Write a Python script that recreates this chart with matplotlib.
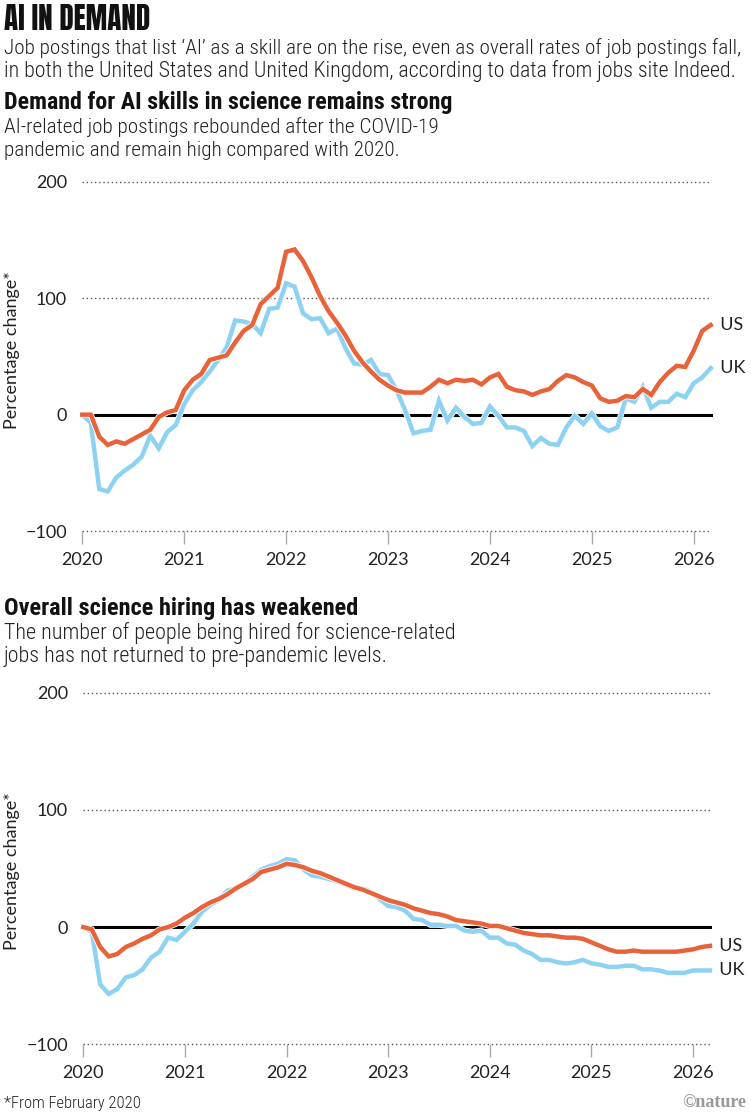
import matplotlib
matplotlib.use("Agg")
import matplotlib.pyplot as plt
import matplotlib.patheffects as pe
from matplotlib import font_manager
import numpy as np

# ---------------- data ----------------
month_index = list(range(75))          # Feb 2020 ... Mar 2026 (monthly)
year_ticks = [2020, 2021, 2022, 2023, 2024, 2025, 2026]
y_ticks = [-100, 0, 100, 200]
y_tick_labels = ["\u2212100", "0", "100", "200"]

us_ai = [0, 0, -19, -26, -23, -25, -21, -17, -13, -2, 2, 4,
         21, 30, 35, 47, 49, 51, 62, 72, 77, 95, 102, 109,
         140, 142, 132, 118, 102, 89, 79, 68, 55, 45, 37, 30,
         25, 21, 19, 19, 19, 24, 30, 27, 30, 29, 30, 26,
         32, 35, 24, 21, 20, 17, 20, 22, 29, 34, 32, 28,
         25, 14, 11, 12, 16, 15, 22, 17, 28, 36, 42, 41,
         55, 72, 77]
uk_ai = [0, -7, -64, -66, -54, -48, -43, -36, -18, -29, -15, -9,
         9, 21, 28, 37, 47, 58, 81, 80, 78, 70, 91, 92,
         113, 110, 87, 82, 83, 70, 74, 57, 44, 43, 47, 35,
         34, 21, 4, -16, -14, -13, 12, -5, 6, -2, -8, -7,
         7, -1, -11, -11, -14, -27, -20, -25, -26, -11, -1, -8,
         1, -10, -14, -11, 14, 11, 24, 6, 11, 11, 18, 15,
         27, 32, 40]
us_all = [0, -2, -17, -25, -23, -17, -14, -10, -7, -2, 0, 3,
          8, 12, 17, 21, 24, 28, 33, 37, 41, 47, 49, 51,
          54, 53, 51, 48, 46, 43, 40, 37, 34, 32, 29, 26,
          23, 21, 19, 16, 14, 12, 11, 9, 6, 5, 4, 3,
          1, 1, -1, -3, -5, -6, -7, -7, -8, -9, -9, -10,
          -13, -16, -19, -21, -21, -20, -21, -21, -21, -21, -21, -20,
          -19, -17, -16]
uk_all = [0, -4, -49, -57, -53, -43, -41, -36, -26, -21, -9, -11,
          -4, 3, 13, 19, 23, 31, 33, 37, 43, 49, 52, 54,
          58, 57, 49, 44, 43, 41, 39, 36, 33, 33, 30, 24,
          18, 17, 14, 7, 6, 2, 2, 1, 1, -3, -4, -3,
          -9, -9, -14, -15, -20, -23, -28, -28, -30, -31, -30, -28,
          -31, -32, -34, -34, -33, -33, -36, -36, -37, -39, -39, -39,
          -37, -37, -37]

x = 2020 + np.array(month_index) / 12.0

# ---------------- style ----------------
W, H = 751, 1115
ORANGE = "#E8633A"
BLUE = "#8ED2F3"
TXT = "#222222"

fonts = [(f.name, f.weight) for f in font_manager.fontManager.ttflist]
names = {n for n, _ in fonts}


def pick(cands):
    for c in cands:
        if c in names:
            return c
    return "DejaVu Sans"


def has_weight(name, w):
    return any(n == name and wt == w for n, wt in fonts)


TITLEF = pick(["Anton", "Barlow Condensed", "Roboto Condensed", "Oswald",
               "Archivo Narrow", "Liberation Sans Narrow", "Roboto"])
TITLEW = "normal" if TITLEF == "Anton" else "heavy"
HEADF = pick(["Roboto Condensed", "Barlow Semi Condensed", "Archivo Narrow",
              "Fira Sans Condensed", "PT Sans Narrow", "Liberation Sans Narrow", "Roboto"])
BODYF = pick(["Roboto Condensed", "Barlow Semi Condensed", "Archivo Narrow",
              "Fira Sans Condensed", "PT Sans Narrow", "Liberation Sans Narrow", "Roboto"])
BODYW = 300 if has_weight(BODYF, 300) else "normal"
NUMF = pick(["Lato", "Open Sans", "DejaVu Sans"])

fig = plt.figure(figsize=(W / 100, H / 100), dpi=100)
fig.patch.set_facecolor("white")
renderer = fig.canvas.get_renderer()


def fit_text(x_px, y_px, s, target_w, **kw):
    t = fig.text(x_px / W, 1 - y_px / H, s, **kw)
    w = t.get_window_extent(renderer).width
    t.set_fontsize(t.get_fontsize() * target_w / w)
    return t


# headings / texts
fit_text(4, 30, "AI IN DEMAND", 146, fontsize=24, fontweight=TITLEW,
         family=TITLEF, color="#111111", va="baseline")
fit_text(4, 54, "Job postings that list \u2018AI\u2019 as a skill are on the rise, even as overall rates of job postings fall,",
         741, fontsize=14, family=BODYF, fontweight=BODYW, color=TXT, va="baseline")
fit_text(4, 77, "in both the United States and United Kingdom, according to data from jobs site Indeed.",
         733, fontsize=14, family=BODYF, fontweight=BODYW, color=TXT, va="baseline")

fit_text(4, 109, "Demand for AI skills in science remains strong", 450, fontsize=14,
         fontweight="bold", family=HEADF, color="#111111", va="baseline")
fit_text(4, 133, "AI-related job postings rebounded after the COVID-19", 438,
         fontsize=14, family=BODYF, fontweight=BODYW, color=TXT, va="baseline")
fit_text(4, 156, "pandemic and remain high compared with 2020.", 398,
         fontsize=14, family=BODYF, fontweight=BODYW, color=TXT, va="baseline")

fit_text(4, 615, "Overall science hiring has weakened", 357, fontsize=14,
         fontweight="bold", family=HEADF, color="#111111", va="baseline")
fit_text(4, 639, "The number of people being hired for science-related", 452,
         fontsize=14, family=BODYF, fontweight=BODYW, color=TXT, va="baseline")
fit_text(4, 662, "jobs has not returned to pre-pandemic levels.", 385,
         fontsize=14, family=BODYF, fontweight=BODYW, color=TXT, va="baseline")

fit_text(4, 1108, "*From February 2020", 136, fontsize=11, family=BODYF,
         fontweight=BODYW, color=TXT, va="baseline")
fig.text(746 / W, 1 - 1107 / H, "\u00a9nature", fontsize=13, fontweight="bold",
         family="Liberation Serif", color="#999999", ha="right", va="baseline")

# y-axis titles placed in figure pixels
fig.text(12 / W, 1 - 350 / H, "Percentage change*", rotation=90, family=NUMF,
         fontsize=13, color=TXT, ha="center", va="center")
fig.text(12 / W, 1 - 871 / H, "Percentage change*", rotation=90, family=NUMF,
         fontsize=13, color=TXT, ha="center", va="center")


def make_axes(left_px, right_px, top_px, bottom_px, us, uk):
    ax = fig.add_axes([left_px / W, 1 - bottom_px / H,
                       (right_px - left_px) / W, (bottom_px - top_px) / H])
    ax.set_xlim(2020, x[-1])
    ax.set_ylim(-100, 200)
    for s in ax.spines.values():
        s.set_visible(False)
    for yv in (200, 100, -100):
        ax.axhline(yv, color="#555555", lw=1.0, ls=(0, (1, 2)), zorder=1, clip_on=False)
    ax.axhline(0, color="black", lw=2.2, zorder=2, clip_on=False)
    ax.plot(x, uk, color=BLUE, lw=3.2, solid_joinstyle="miter", zorder=3, clip_on=False,
            path_effects=[pe.Stroke(linewidth=4.4, foreground="white"), pe.Normal()])
    ax.plot(x, us, color=ORANGE, lw=3.2, solid_joinstyle="miter", zorder=4, clip_on=False,
            path_effects=[pe.Stroke(linewidth=4.4, foreground="white"), pe.Normal()])
    ax.set_xticks(year_ticks)
    ax.set_xticklabels([str(v) for v in year_ticks], family=NUMF, fontsize=13, color=TXT)
    ax.tick_params(axis="x", length=9, width=1.0, color="#aaaaaa", pad=6)
    ax.set_yticks(y_ticks)
    ax.set_yticklabels(y_tick_labels, family=NUMF, fontsize=13, color=TXT)
    ax.tick_params(axis="y", length=0, pad=11)
    ax.text(x[-1], us[-1], "  US", transform=ax.transData, family=NUMF, fontsize=13,
            color=TXT, va="center", ha="left", clip_on=False)
    ax.text(x[-1], uk[-1], "  UK", transform=ax.transData, family=NUMF, fontsize=13,
            color=TXT, va="center", ha="left", clip_on=False)
    ax.patch.set_alpha(0)
    return ax


ax1 = make_axes(82.3, 710.7, 182, 531, us_ai, uk_ai)
ax2 = make_axes(83.3, 710.0, 692.7, 1044.3, us_all, uk_all)

fig.savefig("out.png", dpi=100, facecolor="white")
